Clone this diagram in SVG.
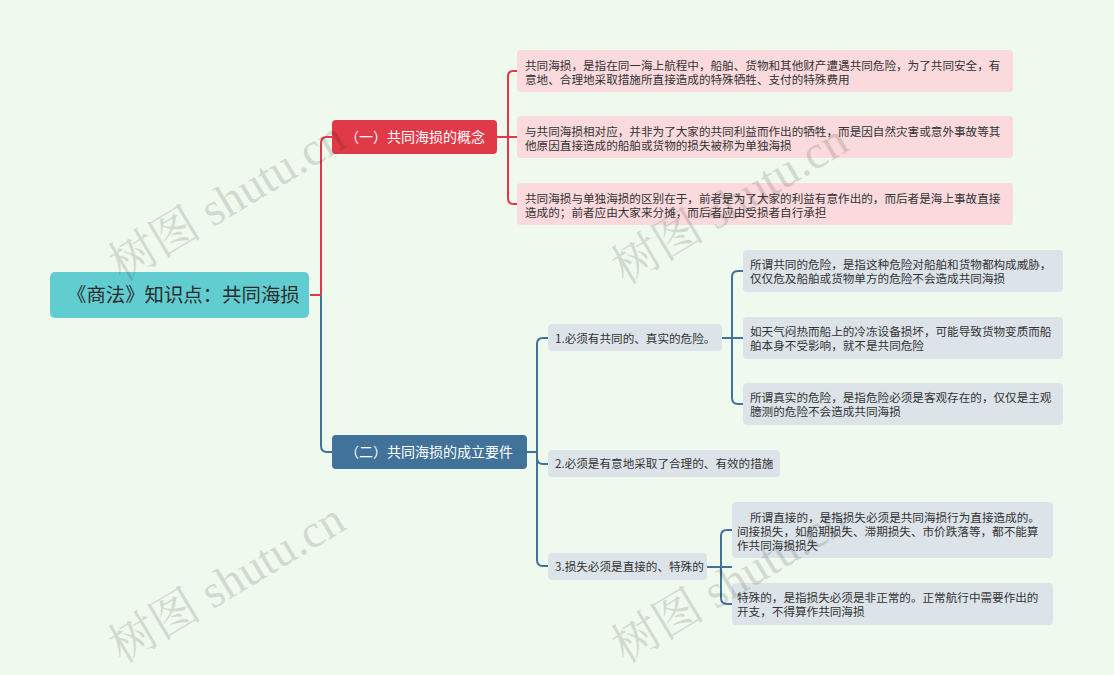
<svg xmlns="http://www.w3.org/2000/svg" width="1114" height="675" viewBox="0 0 1114 675">
<style>
text{font-family:"Noto Sans CJK SC","Noto Sans",sans-serif;fill:#333}
.root rect{fill:#62CDD0}
.root text{font-size:19.4px;fill:#2b2b2b}
.b1 rect{fill:#E03A48}
.b2 rect{fill:#41729A}
.b1 text,.b2 text{font-size:14px;fill:#fff}
.pk rect{fill:#FADADD}
.gy rect{fill:#DCE4EA}
.pk text,.gy text{font-size:11.6px}
.l2 text{font-size:11.6px}
.cr{fill:none;stroke:#E03A48;stroke-width:2}
.cb{fill:none;stroke:#41729A;stroke-width:2}
.wm{font-family:"Liberation Serif","Noto Serif CJK SC","Noto Sans CJK SC",serif;font-size:47px;fill:#000;opacity:0.12}
</style>
<rect width="1114" height="675" fill="#F0F9EE"/>
<g id="connectors">
<path class="cr" d="M310 295H321V143Q321 137 327 137H332"/>
<path class="cb" d="M321 295V446Q321 452 327 452H332"/>
<path class="cr" d="M497 137H518"/>
<path class="cr" d="M518 71H513Q508 71 508 77V198Q508 204 513 204H518"/>
<path class="cb" d="M527 452H537"/>
<path class="cb" d="M548 338H543Q537 338 537 344V560Q537 566 543 566H548"/>
<path class="cb" d="M537 458Q537 464 543 464H548"/>
<path class="cb" d="M722 338H743"/>
<path class="cb" d="M743 271H738Q732 271 732 277V398Q732 404 738 404H743"/>
<path class="cb" d="M707 567H732"/>
<path class="cb" d="M732 530H727Q721 530 721 536V598Q721 604 727 604H732"/>
</g>
<g id="root" class="root"><rect x="50" y="272" width="259" height="46" rx="5"/><text x="67" y="302">《商法》知识点：共同海损</text></g>
<g id="n1" class="b1"><rect x="332" y="120" width="165" height="34" rx="4"/><text x="345" y="142">（一）共同海损的概念</text></g>
<g id="n2" class="b2"><rect x="332" y="435" width="195" height="34" rx="4"/><text x="345" y="457">（二）共同海损的成立要件</text></g>
<g id="n1a" class="pk"><rect x="517" y="50" width="496" height="42" rx="4"/><text x="525" y="70">共同海损，是指在同一海上航程中，船舶、货物和其他财产遭遇共同危险，为了共同安全，有</text><text x="525" y="84">意地、合理地采取措施所直接造成的特殊牺牲、支付的特殊费用</text></g>
<g id="n1b" class="pk"><rect x="517" y="116" width="496" height="42" rx="4"/><text x="525" y="136">与共同海损相对应，并非为了大家的共同利益而作出的牺牲，而是因自然灾害或意外事故等其</text><text x="525" y="150">他原因直接造成的船舶或货物的损失被称为单独海损</text></g>
<g id="n1c" class="pk"><rect x="517" y="183" width="496" height="42" rx="4"/><text x="525" y="203">共同海损与单独海损的区别在于，前者是为了大家的利益有意作出的，而后者是海上事故直接</text><text x="525" y="217">造成的；前者应由大家来分摊，而后者应由受损者自行承担</text></g>
<g id="n21" class="gy l2"><rect x="548" y="324" width="174" height="27" rx="4"/><text x="555" y="343">1.必须有共同的、真实的危险。</text></g>
<g id="n22" class="gy l2"><rect x="548" y="450" width="232" height="27" rx="4"/><text x="555" y="468">2.必须是有意地采取了合理的、有效的措施</text></g>
<g id="n23" class="gy l2"><rect x="548" y="553" width="159" height="27" rx="4"/><text x="555" y="571">3.损失必须是直接的、特殊的</text></g>
<g id="n21a" class="gy"><rect x="743" y="250" width="320" height="42" rx="4"/><text x="750" y="269">所谓共同的危险，是指这种危险对船舶和货物都构成威胁，</text><text x="750" y="283">仅仅危及船舶或货物单方的危险不会造成共同海损</text></g>
<g id="n21b" class="gy"><rect x="743" y="317" width="320" height="42" rx="4"/><text x="750" y="336">如天气闷热而船上的冷冻设备损坏，可能导致货物变质而船</text><text x="750" y="350">舶本身不受影响，就不是共同危险</text></g>
<g id="n21c" class="gy"><rect x="743" y="383" width="320" height="42" rx="4"/><text x="750" y="402">所谓真实的危险，是指危险必须是客观存在的，仅仅是主观</text><text x="750" y="416">臆测的危险不会造成共同海损</text></g>
<g id="n23a" class="gy"><rect x="732" y="502" width="321" height="56" rx="4"/><text x="750" y="522">所谓直接的，是指损失必须是共同海损行为直接造成的。</text><text x="737" y="536">间接损失，如船期损失、滞期损失、市价跌落等，都不能算</text><text x="737" y="550">作共同海损损失</text></g>
<g id="n23b" class="gy"><rect x="732" y="583" width="321" height="42" rx="4"/><text x="737" y="602">特殊的，是指损失必须是非正常的。正常航行中需要作出的</text><text x="737" y="616">开支，不得算作共同海损</text></g>
<g id="watermarks">
<text class="wm" transform="translate(122 282) rotate(-31)">树图 shutu.cn</text>
<text class="wm" transform="translate(625 285) rotate(-31)">树图 shutu.cn</text>
<text class="wm" transform="translate(122 664) rotate(-31)">树图 shutu.cn</text>
<text class="wm" transform="translate(625 664) rotate(-31)">树图 shutu.cn</text>
</g>
</svg>
